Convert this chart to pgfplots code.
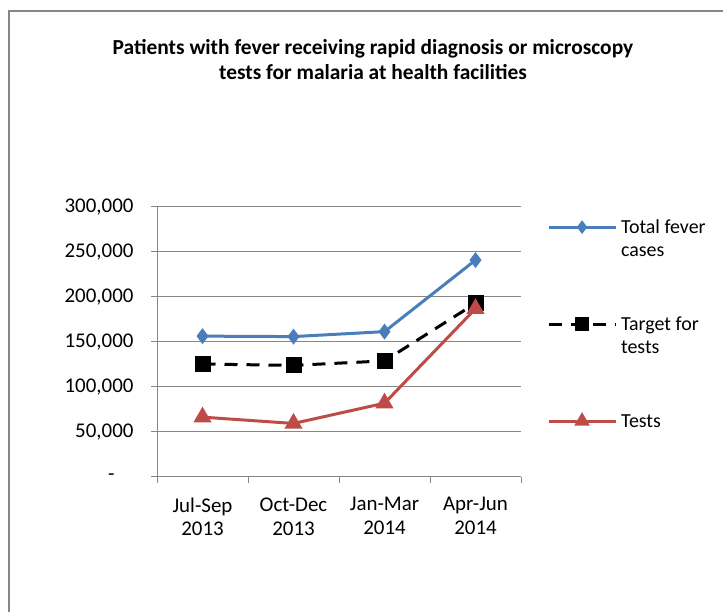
\documentclass[border=0pt]{standalone}
\usepackage{fontspec}
\setmainfont{Carlito}
\usepackage{pgfplots}
\pgfplotsset{compat=1.18}
\definecolor{fblue}{HTML}{4A7EBB}
\definecolor{tred}{HTML}{BE4B48}
\definecolor{gridc}{HTML}{868686}
\begin{document}
\begin{tikzpicture}[x=1bp,y=1bp]
\path[use as bounding box] (0,0) rectangle (723,612);
\draw[gridc, line width=2bp] (9,0) -- (9,601) -- (723,601);
\node[font=\bfseries\fontsize{21.5}{25}\selectfont, align=center, anchor=center] at (373,552.5) {Patients with fever receiving rapid diagnosis or microscopy\\tests for malaria at health facilities};
\begin{axis}[
  at={(157bp,135bp)}, anchor=south west,
  scale only axis, width=364bp, height=270bp,
  xmin=0.5, xmax=4.5, ymin=0, ymax=300000,
  scaled y ticks=false,
  axis lines*=left,
  axis line style={gridc, line width=1bp},
  ymajorgrids,
  major grid style={gridc, line width=1bp},
  tick style={gridc, line width=1bp},
  tick align=outside,
  major tick length=6bp,
  xtick={0.5,1.5,2.5,3.5,4.5},
  x tick label as interval,
  xticklabels={{Jul-Sep\\2013},{Oct-Dec\\2013},{Jan-Mar\\2014},{Apr-Jun\\2014}},
  x tick label style={align=center, font=\fontsize{21}{24}\selectfont, text=black, yshift=-11bp},
  ytick={0,50000,100000,150000,200000,250000,300000},
  yticklabels={{-\hspace*{19bp}},{50,000},{100,000},{150,000},{200,000},{250,000},{300,000}},
  y tick label style={font=\fontsize{21}{24}\selectfont, text=black, xshift=-14bp},
  legend cell align=left,
  legend style={draw=none, fill=none, inner sep=0pt, at={(1.071,1.054)}, anchor=north west,
    nodes={inner sep=0pt, text height=41bp, text depth=28bp, font=\fontsize{20}{23}\selectfont},
    row sep=28bp, column sep=4bp},
  legend image code/.code={
    \draw[mark repeat=2, mark phase=2, #1, every mark/.append style={scale=0.8}] plot coordinates {(0bp,0bp)(33.5bp,0bp)(67bp,0bp)};},
]
\addplot[fblue, line width=3bp, mark=diamond*, mark size=5.5bp, mark options={solid}]
  coordinates {(1,156500)(2,156000)(3,161500)(4,241000)};
\addlegendentry{\parbox[t]{100bp}{Total fever\\cases}}
\addplot[black, line width=3bp, dash pattern=on 13bp off 9bp, mark=square*, mark size=6.5bp, mark options={solid}]
  coordinates {(1,125500)(2,124000)(3,129000)(4,193000)};
\addlegendentry{\parbox[t]{100bp}{Target for\\tests}}
\addplot[tred, line width=3bp, mark=triangle*, mark size=7.5bp, mark options={solid}]
  coordinates {(1,66500)(2,59500)(3,82000)(4,187000)};
\addlegendentry{\parbox[t]{100bp}{Tests}}
\end{axis}
\end{tikzpicture}
\end{document}
